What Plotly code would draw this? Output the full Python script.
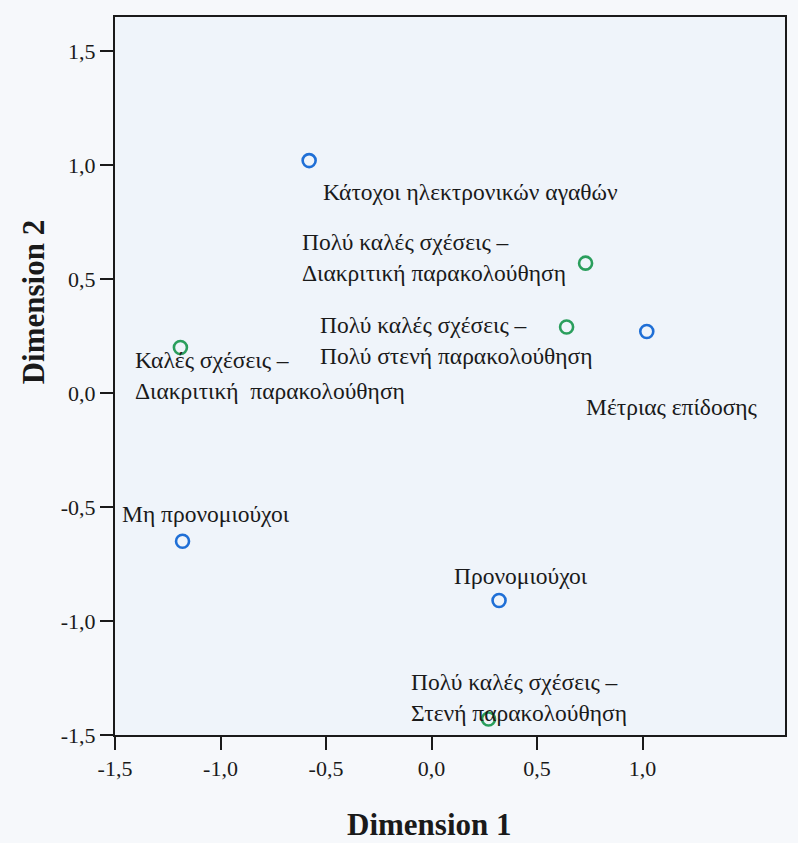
import plotly.graph_objects as go

# ---- data ----
blue_names = ["Κάτοχοι ηλεκτρονικών αγαθών", "Μέτριας επίδοσης", "Μη προνομιούχοι", "Προνομιούχοι"]
blue_dim1 = [-0.58, 1.02, -1.18, 0.32]
blue_dim2 = [1.02, 0.27, -0.65, -0.91]

green_names = ["Πολύ καλές σχέσεις –<br>Διακριτική παρακολούθηση",
               "Πολύ καλές σχέσεις –<br>Πολύ στενή παρακολούθηση",
               "Καλές σχέσεις –<br>Διακριτική  παρακολούθηση",
               "Πολύ καλές σχέσεις –<br>Στενή παρακολούθηση"]
green_dim1 = [0.73, 0.64, -1.19, 0.27]
green_dim2 = [0.57, 0.29, 0.20, -1.43]

tick_vals = [-1.5, -1.0, -0.5, 0.0, 0.5, 1.0, 1.5]
tick_text = ["-1,5", "-1,0", "-0,5", "0,0", "0,5", "1,0", "1,5"]

# label placement (pixel offsets from point): xanchor, xshift, yshift
blue_lbl = [("left", 12, -31), ("center", 25, -75), ("left", -63, 27), ("center", 22, 25)]
green_lbl = [("right", -18, 6), ("right", 28, -14), ("left", -47, -28), ("left", -80, 22)]

FONT = "Liberation Serif, Times New Roman, serif"
TXT = "#1a1a1a"
BLUE = "#1f6fd6"
GREEN = "#2a9e5c"

fig = go.Figure()
fig.add_trace(go.Scatter(x=blue_dim1, y=blue_dim2, mode="markers", name="rows",
                         marker=dict(symbol="circle-open", size=13, color=BLUE,
                                     line=dict(width=2.6, color=BLUE))))
fig.add_trace(go.Scatter(x=green_dim1, y=green_dim2, mode="markers", name="cols",
                         marker=dict(symbol="circle-open", size=13, color=GREEN,
                                     line=dict(width=2.6, color=GREEN))))

for names, xs, ys, lbls in [(blue_names, blue_dim1, blue_dim2, blue_lbl),
                            (green_names, green_dim1, green_dim2, green_lbl)]:
    for n, xv, yv, (xa, xs_, ys_) in zip(names, xs, ys, lbls):
        fig.add_annotation(x=xv, y=yv, xref="x", yref="y", text=n, showarrow=False,
                           xanchor=xa, yanchor="middle", xshift=xs_, yshift=ys_,
                           align="left", font=dict(family=FONT, size=23.5, color=TXT))

fig.add_annotation(x=0.47, y=-0.125, xref="paper", yref="paper", text="<b>Dimension 1</b>",
                   showarrow=False, xanchor="center", yanchor="middle",
                   font=dict(family=FONT, size=31, color=TXT))
fig.add_annotation(x=-0.122, y=0.603, xref="paper", yref="paper", text="<b>Dimension 2</b>",
                   showarrow=False, xanchor="center", yanchor="middle", textangle=-90,
                   font=dict(family=FONT, size=31, color=TXT))

axis_common = dict(showgrid=False, zeroline=False, showline=True, linecolor=TXT, linewidth=2,
                   mirror=True, ticks="outside", ticklen=13, tickwidth=2, tickcolor=TXT,
                   tickfont=dict(family=FONT, size=22, color=TXT))

fig.update_xaxes(range=[-1.5, 1.675], tickvals=tick_vals[:-1], ticktext=tick_text[:-1],
                 **axis_common)
fig.update_yaxes(range=[-1.5, 1.65], tickvals=tick_vals, ticktext=tick_text, **axis_common)

fig.update_layout(width=798, height=843, showlegend=False,
                  margin=dict(l=115, r=13, t=17, b=108),
                  paper_bgcolor="#f6f8fb", plot_bgcolor="#eff4fa")

fig.write_html("out.html")
